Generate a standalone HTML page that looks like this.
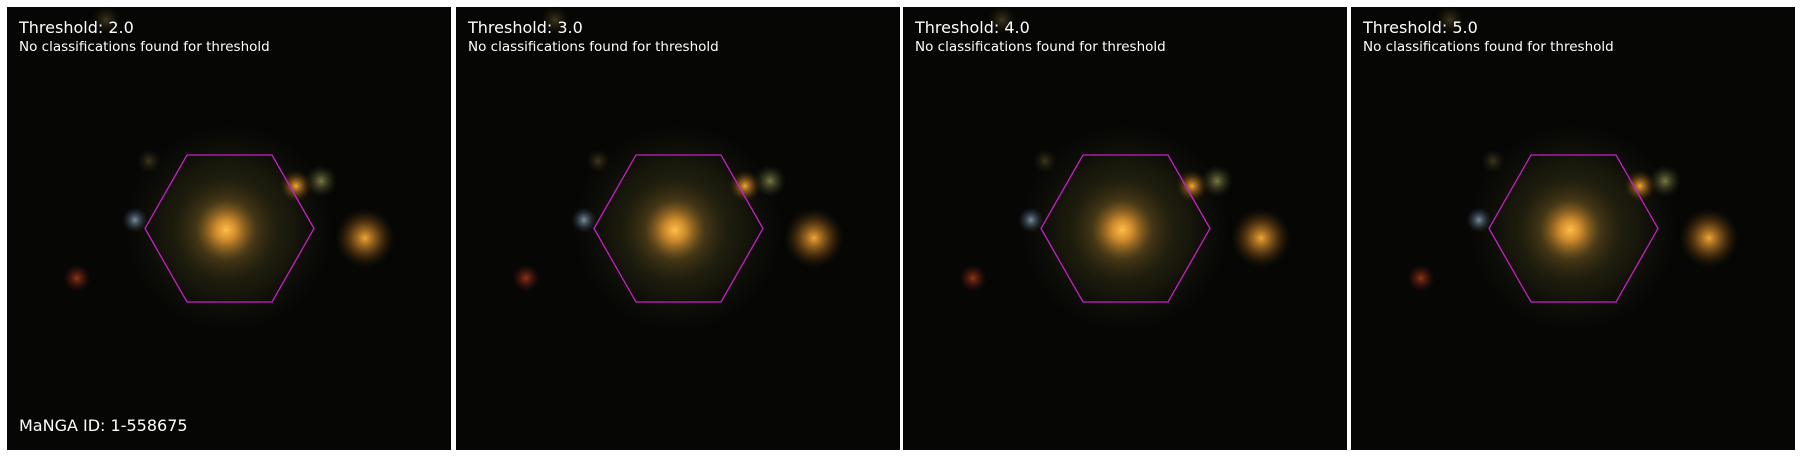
<!DOCTYPE html>
<html><head><meta charset="utf-8"><style>
html,body{margin:0;padding:0;background:#fff;width:1800px;height:457px;overflow:hidden}
svg{display:block}
text{font-family:"DejaVu Sans","Liberation Sans",sans-serif;fill:#fff}
</style></head><body>
<svg id="fig" width="1800" height="457" viewBox="0 0 1800 457">
<defs>
<radialGradient id="gcore"><stop offset="0" stop-color="#ffc04a"/><stop offset="0.2" stop-color="#e89a30" stop-opacity="0.85"/><stop offset="0.55" stop-color="#7a5a20" stop-opacity="0.35"/><stop offset="1" stop-color="#3a3010" stop-opacity="0"/></radialGradient>
<radialGradient id="ghalo"><stop offset="0" stop-color="#5a4a20" stop-opacity="0.6"/><stop offset="0.6" stop-color="#3a3a18" stop-opacity="0.35"/><stop offset="1" stop-color="#202010" stop-opacity="0"/></radialGradient>
<radialGradient id="gorange"><stop offset="0" stop-color="#f0a838"/><stop offset="0.4" stop-color="#b07020" stop-opacity="0.65"/><stop offset="1" stop-color="#402a0a" stop-opacity="0"/></radialGradient>
<radialGradient id="ggreen"><stop offset="0" stop-color="#7a7a48"/><stop offset="1" stop-color="#303018" stop-opacity="0"/></radialGradient>
<radialGradient id="gblue"><stop offset="0" stop-color="#7a90a0"/><stop offset="1" stop-color="#203040" stop-opacity="0"/></radialGradient>
<radialGradient id="gred"><stop offset="0" stop-color="#903418"/><stop offset="1" stop-color="#401008" stop-opacity="0"/></radialGradient>
<radialGradient id="gfaint"><stop offset="0" stop-color="#3e3620"/><stop offset="1" stop-color="#201a08" stop-opacity="0"/></radialGradient>
</defs>
</svg>
<script>
const thresholds = [2.0, 3.0, 4.0, 5.0];
const panelLefts = [7, 456, 903, 1351];
const mangaId = "1-558675";
const NS = "http://www.w3.org/2000/svg";
const fig = document.getElementById('fig');
function mk(tag, attrs, parent){const e=document.createElementNS(NS,tag);for(const k in attrs)e.setAttribute(k,attrs[k]);parent.appendChild(e);return e;}
thresholds.forEach((t,i)=>{
  const x0 = panelLefts[i], y0 = 7, W = 444, H = 443;
  const g = mk('g',{transform:`translate(${x0},${y0})`},fig);
  
  
  mk('rect',{x:0,y:0,width:W,height:H,fill:'#060605'},g);
  const ox = -7, oy = -7;
  const blobs = [
    [229,228,105,'ghalo'],[226,230,55,'gcore'],[365,238,30,'gorange'],
    [296,186,16,'gorange'],[321,181,16,'ggreen'],[135,220,13,'gblue'],
    [77,278,14,'gred'],[149,161,12,'gfaint'],[106,20,14,'gfaint']
  ];
  blobs.forEach(b=>{
    const c = mk('circle',{cx:b[0]+ox,cy:b[1]+oy,r:b[2],fill:`url(#${b[3]})`},g);
    
    
  });
  const hx = mk('polygon',{points:`${187+ox},${155+oy} ${272+ox},${155+oy} ${314+ox},${228.5+oy} ${272+ox},${302+oy} ${187+ox},${302+oy} ${145+ox},${228.5+oy}`,fill:'none',stroke:'#c81ec8','stroke-width':1.3},g);
  
  
  const t1 = mk('text',{x:12,y:26,'font-size':16},g);
  t1.textContent = 'Threshold: ' + t.toFixed(1);
  
  
  const t2 = mk('text',{x:12,y:44,'font-size':13.5},g);
  t2.textContent = 'No classifications found for threshold';
  
  
  if(i===0){
    const t3 = mk('text',{x:12,y:424,'font-size':16},g);
    t3.textContent = 'MaNGA ID: ' + mangaId;
    
    
  }
});
</script>
</body></html>
